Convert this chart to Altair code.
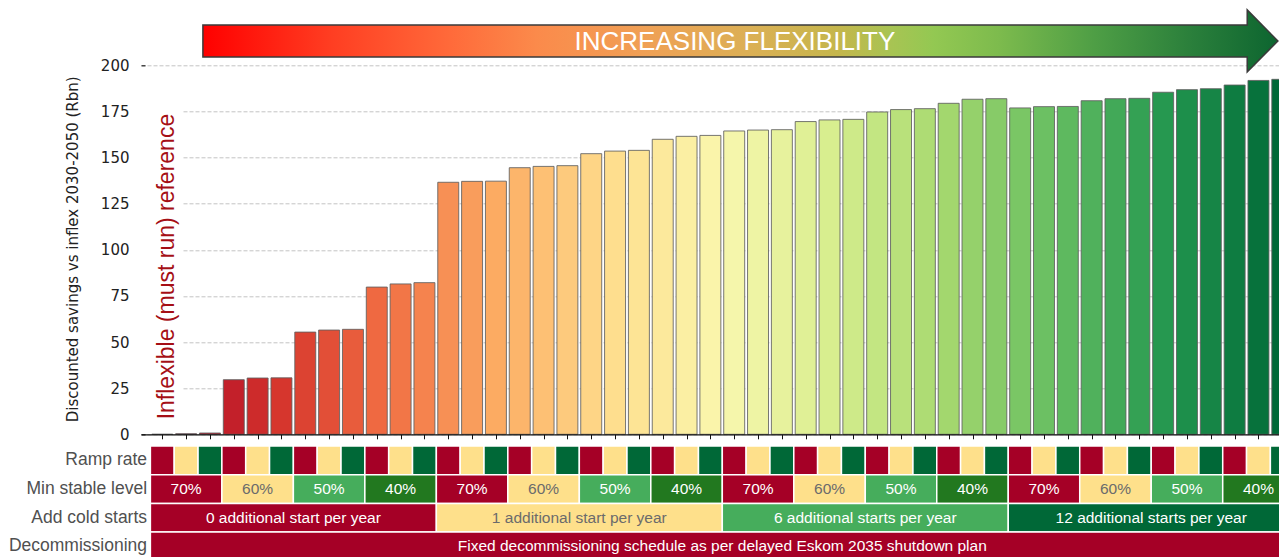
import altair as alt
import pandas as pd

# ---------------- data ----------------
savings = [0.0, 0.3, 0.7, 29.6, 30.5, 30.6, 55.4, 56.5, 56.9, 79.8, 81.5, 82.2,
           136.6, 137.1, 137.2, 144.5, 145.2, 145.6, 152.1, 153.5, 153.9, 159.9, 161.5, 162.0,
           164.4, 164.9, 165.1, 169.5, 170.4, 170.7, 174.7, 176.0, 176.5, 179.4, 181.6, 181.9,
           176.9, 177.6, 177.7, 180.8, 181.9, 182.1, 185.4, 186.8, 187.3, 189.3, 191.8, 192.4]
ramp_rates = ["slow", "medium", "fast"]
min_stable_levels = ["70%", "60%", "50%", "40%"]
cold_starts = ["0 additional start per year", "1 additional start per year",
               "6 additional starts per year", "12 additional starts per year"]
decommissioning = ["Fixed decommissioning schedule as per delayed Eskom 2035 shutdown plan"]
row_names = ["Ramp rate", "Min stable level", "Add cold starts", "Decommissioning"]
y_ticks = [0, 25, 50, 75, 100, 125, 150, 175, 200]
y_title = "Discounted savings vs inflex 2030-2050 (Rbn)"
ref_label = "Inflexible (must run) reference"
arrow_label = "INCREASING FLEXIBILITY"

n = len(savings)

# ---------------- styles ----------------
RED, YEL, DGRN, MGRN, MSL40 = "#a50026", "#fee08b", "#006837", "#46ad5c", "#22781f"
cat_colors = {
    "r:slow": RED, "r:medium": YEL, "r:fast": DGRN,
    "m:70%": RED, "m:60%": YEL, "m:50%": MGRN, "m:40%": MSL40,
    "c:" + cold_starts[0]: RED, "c:" + cold_starts[1]: YEL,
    "c:" + cold_starts[2]: MGRN, "c:" + cold_starts[3]: DGRN,
    "d:" + decommissioning[0]: RED,
}
yellow_cats = [k for k, v in cat_colors.items() if v == YEL]

# ---------------- tables ----------------
bars = pd.DataFrame({"idx": list(range(n)), "value": savings})
bars["x0"] = bars["idx"] - 0.44
bars["x1"] = bars["idx"] + 0.44

row_keys = [
    ("r", [ramp_rates[i % 3] for i in range(n)], False),
    ("m", [min_stable_levels[(i // 3) % 4] for i in range(n)], True),
    ("c", [cold_starts[i // 12] for i in range(n)], True),
    ("d", [decommissioning[0] for i in range(n)], True),
]
cells = []
for r, (prefix, keys, show) in enumerate(row_keys):
    start = 0
    for i in range(1, n + 1):
        if i == n or keys[i] != keys[start]:
            cells.append({"row": r, "row2": r + 1, "rc": r + 0.5,
                          "x0": start - 0.5, "x1": i - 0.5, "xc": (start + i - 1) / 2,
                          "cat": prefix + ":" + keys[start],
                          "label": keys[start] if show else ""})
            start = i
cells = pd.DataFrame(cells)
labels_df = pd.DataFrame({"name": row_names, "rc": [r + 0.5 for r in range(4)],
                          "x": [-0.64] * 4})

ann = pd.DataFrame({"x": [0.2], "y": [90.9], "text": [ref_label]})
box = pd.DataFrame({"x0": [-0.9], "x1": [0.87], "y0": [1.0], "y1": [179.0]})
arrow_df = pd.DataFrame({"x": [24.26], "y": [213.2]})
arrow_txt = pd.DataFrame({"x": [24.03], "y": [212.5], "text": [arrow_label]})

# ---------------- scales / axes ----------------
X_SCALE = alt.Scale(domain=[-0.894, 46.862], nice=False, zero=False, padding=0)
X_AXIS = alt.Axis(values=list(range(n)), labels=False, title=None, tickSize=4.5,
                  tickColor="#111", domainColor="#111", domainWidth=1.2, tickWidth=1,
                  grid=False, offset=-122.7, zindex=1)
Y_SCALE = alt.Scale(domain=[0, 200], range=[369, 0], nice=False, padding=0)
Y_AXIS = alt.Axis(values=y_ticks, title=y_title, titleX=-73, titleY=183.5, titleAngle=270,
                  titleBaseline="middle", titleAlign="center", titleFont="DejaVu Sans",
                  titleFontSize=15, titleFontWeight="normal", titleColor="#222",
                  labelFont="DejaVu Sans", labelFontSize=15, labelColor="#222",
                  labelPadding=12, tickSize=4, tickColor="#222", tickWidth=1.2,
                  domain=False, grid=True, gridColor="#c4c4c4", gridDash=[4, 2],
                  gridWidth=1, offset=-4, zindex=0)
T_SCALE = alt.Scale(domain=[0, 4], range=[380.7, 495.5], nice=False, zero=False, padding=0)

gradient = {"gradient": "linear", "x1": 0, "x2": 1, "y1": 0, "y2": 0,
            "stops": [
                {"offset": 0.0, "color": "#ff0000"},
                {"offset": 0.12, "color": "#ff3e22"},
                {"offset": 0.23, "color": "#ff6a3a"},
                {"offset": 0.31, "color": "#fb8a4b"},
                {"offset": 0.41, "color": "#f0a055"},
                {"offset": 0.51, "color": "#dbb055"},
                {"offset": 0.59, "color": "#c5b64c"},
                {"offset": 0.64, "color": "#a8c453"},
                {"offset": 0.68, "color": "#93c852"},
                {"offset": 0.74, "color": "#7dbb4d"},
                {"offset": 0.83, "color": "#4e9e45"},
                {"offset": 0.92, "color": "#2a7f3b"},
                {"offset": 1.0, "color": "#0d6530"},
            ]}
arrow_path = ("M -1 -0.02977 L 0.9429 -0.02977 L 0.9429 -0.05767 L 1 0 "
              "L 0.9429 0.05767 L 0.9429 0.02977 L -1 0.02977 Z")

# ---------------- top (bars) ----------------
white_box = alt.Chart(box).mark_rect(color="white").encode(
    x=alt.X("x0:Q", scale=X_SCALE, axis=X_AXIS), x2="x1:Q",
    y=alt.Y("y0:Q", scale=Y_SCALE, axis=Y_AXIS), y2="y1:Q")

bar_layer = alt.Chart(bars).mark_bar(clip=True, stroke="#5f5f5f", strokeWidth=1,
                                     strokeOpacity=0.85).encode(
    x=alt.X("x0:Q", scale=X_SCALE, axis=X_AXIS), x2="x1:Q",
    y=alt.Y("value:Q", scale=Y_SCALE, axis=Y_AXIS), y2=alt.datum(0),
    color=alt.Color("idx:Q", scale=alt.Scale(scheme="redyellowgreen", domain=[0, n - 1]),
                    legend=None))

ref_text = alt.Chart(ann).mark_text(angle=270, align="center", baseline="middle",
                                    font="Liberation Sans", fontSize=23,
                                    color="#a50f15").encode(
    x=alt.X("x:Q", scale=X_SCALE, axis=X_AXIS),
    y=alt.Y("y:Q", scale=Y_SCALE, axis=Y_AXIS), text="text:N")

arrow = alt.Chart(arrow_df).mark_point(shape=arrow_path, size=1075 ** 2, filled=True,
                                       fill=gradient, stroke="#3a3a3a", strokeWidth=1.5,
                                       opacity=1).encode(
    x=alt.X("x:Q", scale=X_SCALE, axis=X_AXIS),
    y=alt.Y("y:Q", scale=Y_SCALE, axis=Y_AXIS))

arrow_text = alt.Chart(arrow_txt).mark_text(align="center", baseline="middle",
                                            font="Liberation Sans", fontSize=26,
                                            color="white").encode(
    x=alt.X("x:Q", scale=X_SCALE, axis=X_AXIS),
    y=alt.Y("y:Q", scale=Y_SCALE, axis=Y_AXIS), text="text:N")

top = alt.layer(white_box, bar_layer, ref_text, arrow, arrow_text)

# ---------------- table ----------------
cell_rects = alt.Chart(cells).mark_rect(clip=True, stroke="white", strokeWidth=1.5).encode(
    x=alt.X("x0:Q", scale=X_SCALE, axis=X_AXIS), x2="x1:Q",
    y=alt.Y("row:Q", scale=T_SCALE, axis=None), y2="row2:Q",
    color=alt.Color("cat:N", scale=alt.Scale(domain=list(cat_colors.keys()),
                                             range=list(cat_colors.values())),
                    legend=None))

cond = " || ".join("datum.cat == '%s'" % c for c in yellow_cats)
cell_text = alt.Chart(cells).transform_filter("datum.label != ''").mark_text(
    clip=True, align="center", baseline="middle", font="Liberation Sans",
    fontSize=15.5).encode(
    x=alt.X("xc:Q", scale=X_SCALE, axis=X_AXIS),
    y=alt.Y("rc:Q", scale=T_SCALE, axis=None),
    text="label:N",
    color=alt.condition(cond, alt.value("#6b6b6b"), alt.value("white")))

row_labels = alt.Chart(labels_df).mark_text(align="right", baseline="middle",
                                            font="Liberation Sans", fontSize=17.5,
                                            color="#505050").encode(
    x=alt.X("x:Q", scale=X_SCALE, axis=X_AXIS),
    y=alt.Y("rc:Q", scale=T_SCALE, axis=None), text="name:N")

table = alt.layer(cell_rects, cell_text, row_labels)

chart = alt.layer(top, table).resolve_scale(y="independent", color="independent").properties(
    width=1138, height=491.7, autosize="none",
    padding={"left": 133, "top": 57.3, "right": 0, "bottom": 0},
    background="white",
).configure_view(stroke=None)

chart.save("out.html", embed_options={"renderer": "svg", "actions": False})
